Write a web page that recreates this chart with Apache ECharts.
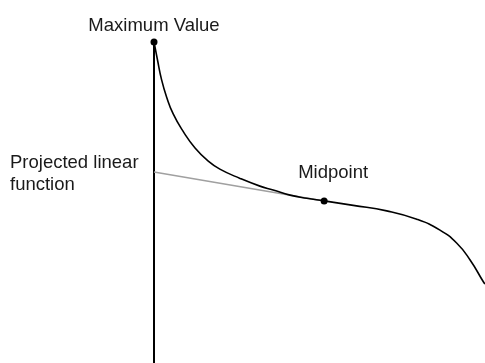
<!DOCTYPE html>
<html>
<head>
<meta charset="utf-8">
<script src="https://cdn.jsdelivr.net/npm/echarts@6/dist/echarts.min.js"></script>
<style>
html,body{margin:0;padding:0;background:#fff;}
#main{width:485px;height:363px;}
</style>
</head>
<body>
<div id="main"></div>
<script>
// curve (x 0..100, y 0..100)
var curveX = [0, 1.0, 2.3, 3.8, 5.8, 8.9, 12.4, 16.4, 19.9, 26.0, 32.0, 36.0, 41.1, 46.1, 51.4, 60.2, 70.3, 79.4, 86.4, 91.5, 95.5, 99.5, 100];
var curveY = [100, 94.7, 88.2, 82.9, 77.6, 72.0, 67.0, 62.9, 60.4, 57.5, 55.1, 53.9, 52.3, 51.3, 50.5, 49.1, 47.4, 44.8, 41.4, 37.3, 32.1, 25.3, 24.6];
var maxIndex = 0;
var midIndex = 14;
var tangentX = [0, 51.4];
var tangentY = [59.5, 50.5];
var labelMax = 'Maximum Value';
var labelMid = 'Midpoint';
var labelProj = 'Projected linear\nfunction';

var txt = {color: '#1a1a1a', fontFamily: 'Liberation Sans, Arial, sans-serif', fontSize: 18.5};

var curveData = [];
for (var i = 0; i < curveX.length; i++) {
    var item = {value: [curveX[i], curveY[i]], symbolSize: 0};
    if (i == maxIndex) {
        item.symbolSize = 7;
        item.label = Object.assign({show: true, position: 'top', distance: 3, formatter: labelMax}, txt);
    }
    if (i == midIndex) {
        item.symbolSize = 7;
        item.label = Object.assign({show: true, position: 'top', distance: 15, offset: [9, 0], formatter: labelMid}, txt);
    }
    curveData.push(item);
}

var tangentData = [];
for (var j = 0; j < tangentX.length; j++) {
    var t = {value: [tangentX[j], tangentY[j]]};
    if (j == 0) {
        t.label = Object.assign({show: true, position: [-144, -20], align: 'left', verticalAlign: 'top', lineHeight: 22, formatter: labelProj}, txt);
    }
    tangentData.push(t);
}

var myChart = echarts.init(document.getElementById('main'));
var option = {
    animation: false,
    grid: {left: 154, right: 0, top: 42, bottom: 0},
    xAxis: {
        type: 'value', min: 0, max: 100,
        show: false
    },
    yAxis: {
        type: 'value', min: 0, max: 100,
        axisLine: {show: true, lineStyle: {color: '#000', width: 2}},
        axisTick: {show: false},
        axisLabel: {show: false},
        splitLine: {show: false}
    },
    series: [
        {
            type: 'line',
            data: tangentData,
            symbol: 'circle',
            symbolSize: 0,
            lineStyle: {color: '#a0a0a0', width: 1.5},
            itemStyle: {color: '#a0a0a0'},
            z: 2
        },
        {
            type: 'line',
            data: curveData,
            smooth: 0.5,
            symbol: 'circle',
            lineStyle: {color: '#000', width: 1.6},
            itemStyle: {color: '#000'},
            clip: false,
            z: 3
        }
    ]
};
myChart.setOption(option);
</script>
</body>
</html>
